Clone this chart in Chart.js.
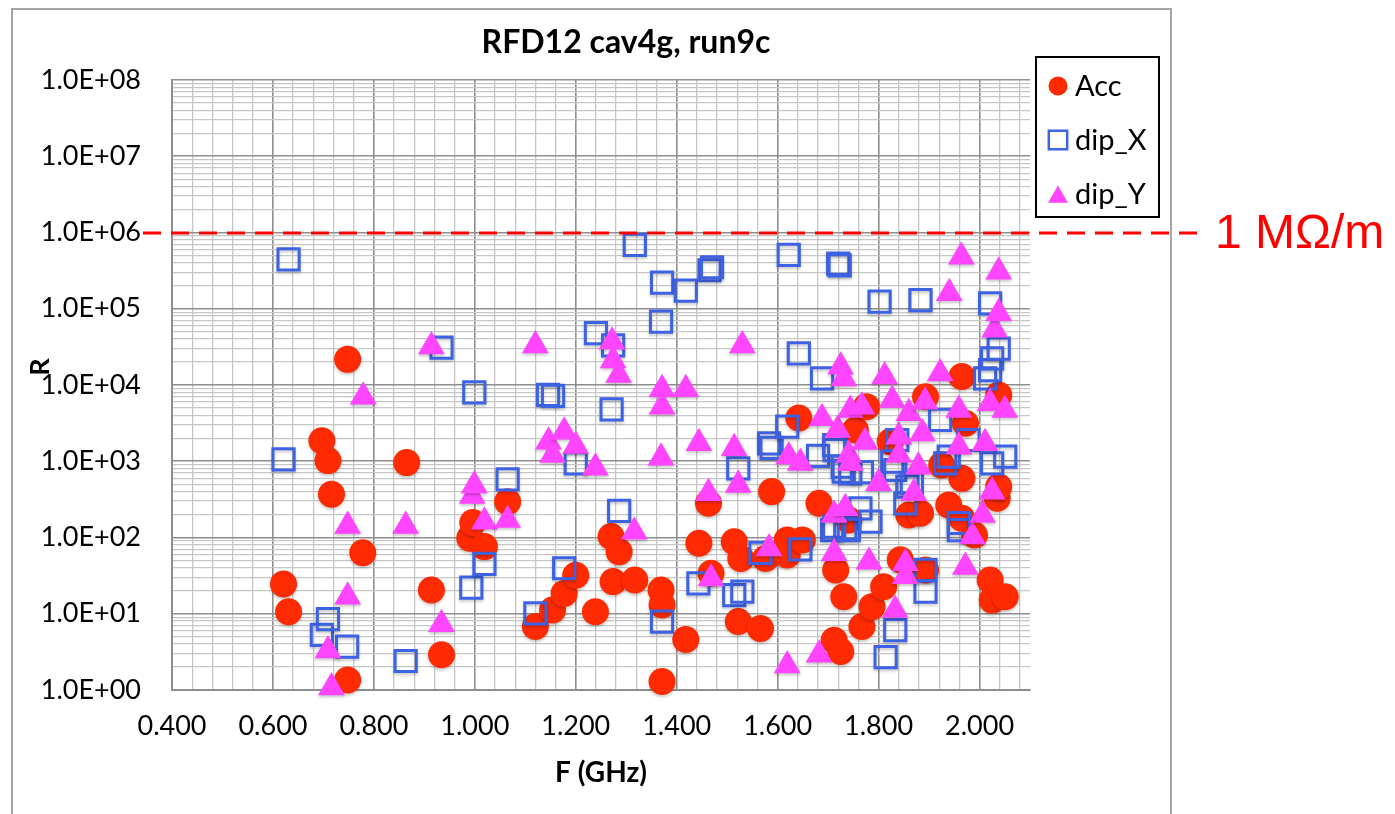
<!DOCTYPE html>
<html>
<head>
<meta charset="utf-8">
<title>RFD12 cav4g, run9c</title>
<script src="https://cdn.jsdelivr.net/npm/chart.js@4.4.1/dist/chart.umd.min.js"></script>
<style>
  body { margin: 0; background: #fff; }
  canvas { display: block; }
</style>
</head>
<body>
<canvas id="r-chart" width="1395" height="814"></canvas>
<script>
// Data (F in GHz, R on a log scale)
const accF = [0.621, 0.631, 0.697, 0.709, 0.716, 0.748, 0.748, 0.778, 0.865, 0.914, 0.934, 0.990, 0.996, 1.019, 1.065,
    1.120, 1.154, 1.177, 1.200, 1.239, 1.270, 1.274, 1.286, 1.317, 1.369, 1.371, 1.371, 1.418, 1.444, 1.463, 1.468,
    1.514, 1.522, 1.527, 1.566, 1.576, 1.588, 1.619, 1.619, 1.642, 1.649, 1.682, 1.712, 1.715, 1.725, 1.731, 1.741,
    1.754, 1.767, 1.776, 1.787, 1.810, 1.823, 1.843, 1.860, 1.883, 1.893, 1.893, 1.925, 1.939, 1.965, 1.965, 1.965,
    1.972, 1.990, 2.021, 2.025, 2.035, 2.038, 2.038, 2.051];
const accR = [24.5, 10.6, 1860, 1020, 370, 21700, 1.35, 63, 960, 20.5, 2.9, 98, 157, 76, 295,
    6.8, 11.2, 18.5, 32, 10.6, 103, 26.4, 65, 27.7, 20.5, 13, 1.29, 4.6, 84, 281, 34,
    88, 7.9, 53, 6.4, 53, 400, 93, 59, 3700, 93, 281, 4.5, 37.5, 3.2, 16.7, 170,
    2570, 6.8, 5200, 12.4, 22.6, 1800, 51, 197, 208, 37.5, 7000, 893, 267, 12900, 597, 179,
    3150, 108, 27.7, 15.1, 327, 464, 7400, 16.7];

const dipXF = [0.621, 0.631, 0.697, 0.709, 0.747, 0.863, 0.934, 0.993, 0.999, 1.019, 1.065, 1.120, 1.145, 1.155, 1.177,
    1.200, 1.240, 1.271, 1.274, 1.286, 1.317, 1.369, 1.371, 1.371, 1.418, 1.443, 1.465, 1.470, 1.514, 1.522, 1.530,
    1.566, 1.583, 1.588, 1.619, 1.622, 1.642, 1.645, 1.680, 1.688, 1.708, 1.712, 1.713, 1.712, 1.720, 1.723, 1.729,
    1.731, 1.734, 1.741, 1.744, 1.764, 1.767, 1.784, 1.802, 1.814, 1.827, 1.833, 1.833, 1.837, 1.853, 1.857, 1.866,
    1.883, 1.893, 1.893, 1.922, 1.932, 1.939, 1.959, 1.959, 1.978, 2.011, 2.021, 2.021, 2.025, 2.025, 2.038, 2.051];
const dipXR = [1060, 445000, 5.3, 8.5, 3.7, 2.4, 31000, 22, 8000, 45, 580, 10.1, 7400, 7200, 39.5,
    940, 48000, 4800, 33000, 223, 690000, 68000, 220000, 7.9, 173000, 25, 320000, 350000, 17.6, 808, 19.5,
    63, 1720, 1500, 2840, 510000, 26000, 70, 1180, 12200, 125, 1630, 1400, 139, 390000, 370000, 849,
    730, 132, 125, 695, 241, 720, 161, 124000, 2.7, 990, 768, 6.1, 1900, 281, 464, 514,
    130000, 37.5, 19.5, 3480, 940, 1150, 125, 155, 1900, 12200, 118000, 15700, 22400, 940, 30000, 1150];

const dipYF = [0.709, 0.716, 0.748, 0.748, 0.779, 0.863, 0.914, 0.934, 0.995, 0.999, 1.019, 1.065, 1.120, 1.146, 1.154,
    1.177, 1.200, 1.239, 1.272, 1.274, 1.285, 1.316, 1.369, 1.371, 1.371, 1.418, 1.444, 1.463, 1.468, 1.514, 1.522,
    1.530, 1.583, 1.619, 1.622, 1.645, 1.682, 1.688, 1.712, 1.712, 1.719, 1.725, 1.731, 1.734, 1.741, 1.744, 1.744,
    1.767, 1.773, 1.781, 1.800, 1.812, 1.827, 1.833, 1.840, 1.840, 1.853, 1.853, 1.860, 1.870, 1.879, 1.887, 1.892,
    1.922, 1.940, 1.959, 1.959, 1.964, 1.972, 1.986, 2.006, 2.011, 2.021, 2.025, 2.030, 2.038, 2.038, 2.050];
const dipYR = [3.3, 1.08, 142, 16.7, 7000, 142, 32000, 7.3, 350, 480, 161, 170, 33000, 1800, 1210,
    2440, 1585, 824, 37000, 21000, 13500, 119, 1110, 8800, 5200, 8800, 1720, 380, 29, 1480, 489,
    33000, 72, 2.1, 1150, 950, 2.9, 3660, 197, 62, 2570, 17400, 12200, 241, 1210, 4700, 940,
    5200, 1790, 48, 514, 12900, 6360, 11.2, 2100, 1210, 46, 31, 4250, 380, 849, 2320, 6040,
    14200, 160000, 4700, 1550, 480000, 41, 103, 197, 1720, 5750, 399, 53000, 87000, 306000, 4700];

// Axes
const xMin = 0.4, xMax = 2.1, xMajorStep = 0.2, xMinorStep = 0.04;
const yMajorTicks = [1, 10, 100, 1e3, 1e4, 1e5, 1e6, 1e7, 1e8];

// Reference line
const refValue = 1e6;
const refLabel = '1 M\u03A9/m';

const titleText = 'RFD12 cav4g, run9c';
const yTitle = 'R';
const xTitle = 'F (GHz)';

const majorGrid = '#8e8e8e';
const minorGrid = '#c6c6c6';

function toPoints(xs, ys) {
    return xs.map((x, i) => ({ x: x, y: ys[i] }));
}

function isMajorX(v) {
    const k = (v - xMin) / xMajorStep;
    return Math.abs(k - Math.round(k)) < 1e-6;
}

function isMajorY(v) {
    const e = Math.log10(v);
    return Math.abs(e - Math.round(e)) < 1e-9;
}

// Chart decorations: frame, title, y title, legend box, 1 MOhm/m line
const decor = {
    id: 'decor',
    beforeDraw(chart) {
        const ctx = chart.ctx;
        ctx.save();
        ctx.fillStyle = '#fff';
        ctx.fillRect(0, 0, chart.width, chart.height);
        ctx.strokeStyle = '#a5a5a5';
        ctx.lineWidth = 2;
        ctx.strokeRect(12, 9, 1159, 900);
        ctx.restore();
    },
    beforeDatasetsDraw(chart) {
        const ctx = chart.ctx;
        ctx.save();
        ctx.shadowColor = 'rgba(0, 0, 0, 0.22)';
        ctx.shadowBlur = 3;
        ctx.shadowOffsetY = 2;
    },
    afterDatasetsDraw(chart) {
        chart.ctx.restore();
    },
    afterDraw(chart) {
        const ctx = chart.ctx;
        ctx.save();

        // title
        ctx.fillStyle = '#000';
        ctx.textAlign = 'center';
        ctx.textBaseline = 'middle';
        ctx.font = 'bold 32px Lato';
        ctx.fillText(titleText, 626, 43);

        // y axis title
        ctx.save();
        ctx.translate(40, 367);
        ctx.rotate(-Math.PI / 2);
        ctx.font = 'bold 27px Lato';
        ctx.fillText(yTitle, 0, 0);
        ctx.restore();

        // 1 MOhm/m dashed line
        const y = Math.round(chart.scales.y.getPixelForValue(refValue));
        ctx.strokeStyle = '#ff0000';
        ctx.lineWidth = 3;
        ctx.setLineDash([18, 10]);
        ctx.beginPath();
        ctx.moveTo(143, y);
        ctx.lineTo(1199, y);
        ctx.stroke();
        ctx.setLineDash([]);
        ctx.fillStyle = '#ff0000';
        ctx.textAlign = 'left';
        ctx.font = '48px "Liberation Sans"';
        ctx.fillText(refLabel, 1215, y + 2);

        // legend
        ctx.fillStyle = '#fff';
        ctx.fillRect(1036, 57, 123, 160);
        ctx.strokeStyle = '#000';
        ctx.lineWidth = 2;
        ctx.strokeRect(1036, 57, 123, 160);
        const rows = [86, 140, 194];
        const sizes = { circle: 9.5, rect: 13, triangle: 11.5 };
        chart.data.datasets.forEach((ds, i) => {
            const ly = rows[i];
            ctx.fillStyle = ds.pointBackgroundColor;
            ctx.strokeStyle = ds.pointBorderColor || ds.pointBackgroundColor;
            ctx.lineWidth = 2.5;
            Chart.helpers.drawPoint(ctx, {
                pointStyle: ds.pointStyle,
                radius: sizes[ds.pointStyle],
                rotation: 0,
                borderWidth: ds.pointBorderWidth ? 2.5 : 0
            }, 1058, ly + (ds.pointStyle === 'triangle' ? 3 : 0));
            ctx.fillStyle = '#000';
            ctx.font = '29px Lato';
            ctx.textBaseline = 'middle';
            ctx.fillText(ds.label, 1075, ly + 1);
        });

        ctx.restore();
    }
};

const rCanvas = document.getElementById('r-chart');

const rData = {
    datasets: [{
        label: 'Acc',
        data: toPoints(accF, accR),
        pointStyle: 'circle',
        pointRadius: 13.5,
        pointHoverRadius: 13.5,
        pointBackgroundColor: '#ff2a00',
        pointBorderWidth: 0,
        order: 3,
        clip: false
    }, {
        label: 'dip_X',
        data: toPoints(dipXF, dipXR),
        pointStyle: 'rect',
        pointRadius: 15,
        pointHoverRadius: 15,
        pointBackgroundColor: 'rgba(0, 0, 0, 0)',
        pointBorderColor: '#3d62e3',
        pointBorderWidth: 3,
        order: 2,
        clip: false
    }, {
        label: 'dip_Y',
        data: toPoints(dipYF, dipYR),
        pointStyle: 'triangle',
        pointRadius: 15.5,
        pointHoverRadius: 15.5,
        pointBackgroundColor: '#ff45ff',
        pointBorderWidth: 0,
        order: 1,
        clip: false
    }]
};

const rOptions = {
    responsive: false,
    animation: false,
    events: [],
    layout: {
        padding: { left: 20, right: 365, top: 80, bottom: 0 }
    },
    scales: {
        x: {
            type: 'linear',
            min: xMin,
            max: xMax,
            afterBuildTicks(scale) {
                const ticks = [];
                for (let v = xMin; v < xMax - 1e-6; v += xMinorStep) {
                    ticks.push({ value: Math.round(v * 100) / 100 });
                }
                scale.ticks = ticks;
            },
            afterFit(scale) {
                scale.height = 124;
            },
            ticks: {
                autoSkip: false,
                maxRotation: 0,
                padding: 20,
                color: '#000',
                font: { family: 'Lato', size: 27 },
                callback: value => isMajorX(value) ? value.toFixed(3) : ''
            },
            grid: {
                drawTicks: false,
                color: ctx => ctx.tick && isMajorX(ctx.tick.value) ? majorGrid : minorGrid,
                lineWidth: ctx => ctx.tick && isMajorX(ctx.tick.value) ? 1.6 : 1.3
            },
            border: { color: majorGrid, width: 2 },
            title: {
                display: true,
                text: xTitle,
                color: '#000',
                font: { family: 'Lato', size: 28, weight: 'bold' },
                padding: { top: 0, bottom: 24 }
            }
        },
        y: {
            type: 'logarithmic',
            min: yMajorTicks[0],
            max: yMajorTicks[yMajorTicks.length - 1],
            afterBuildTicks(scale) {
                const ticks = [];
                for (let d = 0; d < yMajorTicks.length - 1; d++) {
                    for (let k = 1; k <= 9; k++) {
                        ticks.push({ value: Number((k * yMajorTicks[d]).toPrecision(3)) });
                    }
                }
                ticks.push({ value: yMajorTicks[yMajorTicks.length - 1] });
                scale.ticks = ticks;
            },
            afterFit(scale) {
                scale.width = 152;
            },
            ticks: {
                autoSkip: false,
                padding: 31,
                color: '#000',
                font: { family: 'Lato', size: 27 },
                callback: value => {
                    if (!isMajorY(value)) return '';
                    const e = Math.round(Math.log10(value));
                    return '1.0E+' + String(e).padStart(2, '0');
                }
            },
            grid: {
                drawTicks: false,
                color: ctx => ctx.tick && isMajorY(ctx.tick.value) ? majorGrid : minorGrid,
                lineWidth: ctx => ctx.tick && isMajorY(ctx.tick.value) ? 1.6 : 1.3
            },
            border: { color: majorGrid, width: 2 }
        }
    },
    plugins: {
        legend: { display: false },
        title: { display: false },
        tooltip: { enabled: false }
    }
};

let rChart = new Chart(rCanvas, {
    type: 'scatter',
    data: rData,
    options: rOptions,
    plugins: [decor]
});
</script>
</body>
</html>
